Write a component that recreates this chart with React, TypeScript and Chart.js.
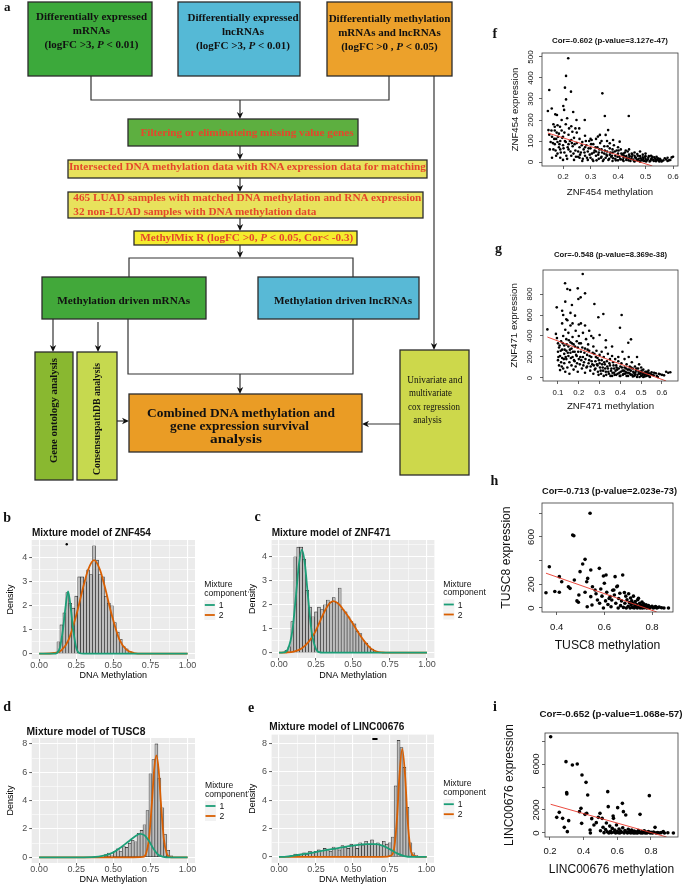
import React, { useEffect, useRef } from 'react';
import { Chart, registerables } from 'chart.js';

Chart.register(...registerables);
Chart.defaults.font.family = "'Liberation Sans', Arial, Helvetica, sans-serif";

type Pair = [number, number];

// ================= DATA =================
// shared ggplot tick values
const methylMajorTicks = [0, 0.25, 0.5, 0.75, 1];
const methylMinorTicks = [0.125, 0.375, 0.625, 0.875];
const densityMajor4 = [0, 1, 2, 3, 4];
const densityMinor4 = [0.5, 1.5, 2.5, 3.5, 4.5];
const densityMajor8 = [0, 2, 4, 6, 8];
const densityMinor8 = [1, 3, 5, 7];
const legendComponents = ['1', '2'];

// b: ZNF454 mixture model
const znf454Bins = [0.13, 0.15, 0.17, 0.19, 0.21, 0.23, 0.25, 0.27, 0.29, 0.31, 0.33, 0.35, 0.37, 0.39, 0.41, 0.43, 0.45, 0.47, 0.49, 0.51, 0.53, 0.55, 0.57, 0.59, 0.61];
const znf454Density = [0.5, 1.2, 1.7, 2.55, 2.1, 1.9, 2.4, 3.2, 3.2, 3.0, 3.5, 3.3, 4.5, 3.9, 3.3, 3.2, 2.4, 2.1, 2.0, 1.3, 0.9, 0.6, 0.3, 0.2, 0.1];
const znf454Comp1: Pair[] = [[0, 0], [0.1, 0], [0.12, 0.03], [0.14, 0.25], [0.16, 0.98], [0.175, 1.8], [0.195, 2.6], [0.215, 1.8], [0.23, 0.98], [0.25, 0.25], [0.27, 0.03], [0.3, 0], [1, 0]];
const znf454Comp2: Pair[] = [[0, 0], [0.1, 0.03], [0.15, 0.14], [0.2, 0.6], [0.25, 1.6], [0.3, 2.85], [0.33, 3.5], [0.37, 3.9], [0.41, 3.5], [0.44, 2.85], [0.49, 1.6], [0.54, 0.6], [0.59, 0.16], [0.64, 0.03], [0.7, 0], [1, 0]];
const znf454Marks: Pair[] = [[0.186, 4.56]];

// c: ZNF471 mixture model
const znf471Bins = [0.05, 0.07, 0.09, 0.11, 0.13, 0.15, 0.17, 0.19, 0.21, 0.23, 0.25, 0.27, 0.29, 0.31, 0.33, 0.35, 0.37, 0.39, 0.41, 0.43, 0.45, 0.47, 0.49, 0.51, 0.53, 0.55, 0.57, 0.59, 0.61, 0.63, 0.65];
const znf471Density = [0.1, 0.25, 1.3, 4.0, 4.4, 4.4, 3.9, 2.6, 1.9, 1.5, 1.7, 1.9, 1.8, 2.0, 2.2, 2.1, 2.3, 2.1, 2.7, 1.8, 1.7, 1.5, 1.3, 1.2, 0.9, 0.8, 0.5, 0.4, 0.25, 0.15, 0.05];
const znf471Comp1: Pair[] = [[0, 0], [0.03, 0.01], [0.06, 0.15], [0.09, 0.9], [0.115, 2.4], [0.135, 3.7], [0.155, 4.3], [0.175, 3.7], [0.195, 2.4], [0.22, 0.9], [0.25, 0.15], [0.28, 0.01], [0.32, 0], [1, 0]];
const znf471Comp2: Pair[] = [[0, 0], [0.05, 0.01], [0.1, 0.05], [0.153, 0.18], [0.2, 0.45], [0.243, 0.85], [0.28, 1.35], [0.31, 1.75], [0.34, 2.05], [0.367, 2.15], [0.4, 2.05], [0.44, 1.75], [0.49, 1.3], [0.54, 0.8], [0.58, 0.45], [0.62, 0.18], [0.66, 0.05], [0.7, 0.01], [0.75, 0], [1, 0]];
const znf471Marks: Pair[] = [];

// d: TUSC8 mixture model
const tusc8Bins = [0.45, 0.47, 0.49, 0.51, 0.53, 0.55, 0.57, 0.59, 0.61, 0.63, 0.65, 0.67, 0.69, 0.71, 0.73, 0.75, 0.77, 0.79, 0.81, 0.83, 0.85, 0.87, 0.89];
const tusc8Density = [0.2, 0.3, 0.1, 0.4, 0.6, 0.4, 0.8, 0.7, 1.0, 1.2, 1.1, 1.7, 1.9, 2.3, 3.3, 5.9, 6.9, 8.0, 5.6, 3.5, 1.6, 0.5, 0.1];
const tusc8Comp1: Pair[] = [[0, 0], [0.3, 0], [0.4, 0.05], [0.45, 0.15], [0.5, 0.35], [0.55, 0.7], [0.6, 1.1], [0.65, 1.5], [0.68, 1.65], [0.71, 1.55], [0.74, 1.15], [0.77, 0.6], [0.8, 0.2], [0.83, 0.05], [0.86, 0], [1, 0]];
const tusc8Comp2: Pair[] = [[0, 0], [0.6, 0], [0.7, 0.03], [0.72, 0.25], [0.74, 1.3], [0.76, 3.9], [0.775, 6.2], [0.79, 7.2], [0.805, 6.2], [0.82, 3.9], [0.84, 1.3], [0.86, 0.25], [0.88, 0.03], [0.9, 0], [1, 0]];
const tusc8Marks: Pair[] = [];

// e: LINC00676 mixture model
const linc00676Bins = [0.11, 0.13, 0.15, 0.17, 0.19, 0.21, 0.23, 0.25, 0.27, 0.29, 0.31, 0.33, 0.35, 0.37, 0.39, 0.41, 0.43, 0.45, 0.47, 0.49, 0.51, 0.53, 0.55, 0.57, 0.59, 0.61, 0.63, 0.65, 0.67, 0.69, 0.71, 0.73, 0.75, 0.77, 0.79, 0.81, 0.83, 0.85, 0.87, 0.89, 0.91, 0.93];
const linc00676Density = [0.2, 0.1, 0.2, 0.3, 0.2, 0.4, 0.3, 0.4, 0.5, 0.3, 0.6, 0.5, 0.4, 0.7, 0.6, 0.5, 0.8, 0.7, 0.6, 0.9, 0.8, 0.6, 1.0, 0.8, 1.1, 0.9, 1.2, 0.9, 1.0, 0.8, 1.1, 0.9, 1.0, 1.4, 5.0, 8.2, 7.7, 6.3, 3.5, 1.0, 0.3, 0.1];
const linc00676Comp1: Pair[] = [[0, 0], [0.05, 0.02], [0.1, 0.1], [0.2, 0.25], [0.3, 0.45], [0.4, 0.62], [0.5, 0.8], [0.6, 0.9], [0.65, 0.9], [0.7, 0.8], [0.75, 0.55], [0.8, 0.25], [0.85, 0.06], [0.9, 0], [1, 0]];
const linc00676Comp2: Pair[] = [[0, 0], [0.7, 0], [0.76, 0.1], [0.78, 0.6], [0.8, 2.8], [0.815, 5.6], [0.835, 7.6], [0.855, 5.6], [0.87, 2.8], [0.89, 0.6], [0.91, 0.1], [0.95, 0], [1, 0]];
const linc00676Marks: Pair[] = [[0.65, 8.3]];

// f: ZNF454 methylation vs expression
const znf454Scatter: Pair[] = [
  [0.219, 494], [0.211, 410], [0.207, 354], [0.150, 343], [0.229, 335], [0.343, 327], [0.211, 298], [0.201, 267], [0.159, 255], [0.145, 243], [0.204, 248], [0.237, 238], [0.352, 219], [0.439, 219], [0.172, 227], [0.178, 224], [0.215, 208], [0.279, 200], [0.249, 200], [0.195, 200], [0.189, 168], [0.170, 168], [0.147, 152], [0.364, 152], [0.259, 160], [0.234, 144], [0.334, 129], [0.355, 129], [0.327, 121], [0.304, 105], [0.382, 105], [0.406, 97], [0.370, 89],
  [0.15, 130], [0.155, 95], [0.16, 120], [0.165, 60], [0.17, 150], [0.17, 85], [0.175, 110], [0.18, 40], [0.18, 175], [0.185, 135], [0.185, 70], [0.19, 100], [0.19, 20], [0.195, 150], [0.2, 80], [0.2, 120], [0.205, 45], [0.21, 180], [0.21, 95], [0.215, 15], [0.22, 130], [0.22, 60], [0.225, 100], [0.23, 170], [0.23, 30], [0.235, 75], [0.24, 115], [0.24, 10], [0.245, 55], [0.25, 140], [0.25, 90], [0.255, 25], [0.26, 70], [0.26, 110], [0.265, 45], [0.27, 5], [0.27, 95], [0.275, 60], [0.28, 125], [0.28, 30], [0.285, 80], [0.29, 50], [0.29, 10], [0.295, 100], [0.3, 65], [0.3, 20], [0.305, 40], [0.31, 85], [0.31, 5], [0.315, 55], [0.32, 30], [0.32, 110], [0.325, 70], [0.33, 15], [0.33, 45], [0.335, 90], [0.34, 25], [0.34, 60], [0.345, 5], [0.35, 40], [0.35, 75], [0.355, 20], [0.36, 50], [0.36, 100], [0.365, 10], [0.37, 35], [0.37, 65], [0.375, 25], [0.38, 5], [0.38, 45], [0.385, 80], [0.39, 15], [0.39, 30], [0.395, 55], [0.4, 8], [0.4, 40], [0.405, 25], [0.41, 60], [0.41, 12], [0.415, 35], [0.42, 5], [0.42, 20], [0.425, 45], [0.43, 28], [0.43, 10], [0.435, 50], [0.44, 18], [0.44, 35], [0.445, 5], [0.45, 25], [0.45, 40], [0.455, 12], [0.46, 30], [0.46, 3], [0.465, 20], [0.47, 38], [0.47, 8], [0.475, 15], [0.48, 28], [0.48, 2], [0.485, 10], [0.49, 22], [0.49, 35], [0.495, 5], [0.5, 15], [0.5, 28], [0.505, 8], [0.51, 20], [0.515, 3], [0.52, 12], [0.525, 25], [0.53, 5], [0.535, 15], [0.54, 8], [0.545, 18], [0.55, 3], [0.555, 10], [0.56, 5], [0.575, 12], [0.585, 8], [0.595, 22],
  [0.16, 20], [0.175, 30], [0.2, 10], [0.22, 85], [0.19, 60], [0.165, 180], [0.18, 95], [0.205, 140], [0.23, 105], [0.245, 160], [0.26, 20], [0.28, 70], [0.3, 110], [0.32, 50], [0.34, 100], [0.36, 30], [0.38, 60], [0.4, 70], [0.42, 40], [0.44, 60], [0.46, 45], [0.48, 50], [0.5, 40], [0.52, 30], [0.54, 25], [0.58, 20], [0.6, 25],
  [0.255, 50], [0.262, 35], [0.268, 80], [0.272, 15], [0.278, 45], [0.283, 100], [0.287, 20], [0.293, 65], [0.297, 35], [0.302, 85], [0.307, 12], [0.312, 45], [0.318, 70], [0.322, 8], [0.328, 35], [0.332, 60], [0.338, 20], [0.342, 45], [0.348, 12], [0.352, 55], [0.358, 35], [0.362, 75], [0.368, 15], [0.372, 45], [0.378, 30], [0.382, 18], [0.388, 50], [0.392, 8], [0.398, 25], [0.402, 55], [0.408, 15], [0.412, 40], [0.418, 10], [0.422, 30], [0.428, 55], [0.432, 18], [0.438, 8], [0.442, 28], [0.448, 15], [0.452, 35], [0.458, 5], [0.462, 22], [0.468, 12], [0.472, 30], [0.478, 5], [0.482, 18], [0.488, 8], [0.492, 14], [0.498, 25], [0.502, 3], [0.508, 12], [0.512, 28], [0.518, 6], [0.522, 18], [0.528, 10], [0.532, 22], [0.538, 4], [0.542, 12], [0.548, 8], [0.552, 15], [0.558, 3], [0.565, 8], [0.57, 18], [0.58, 5], [0.59, 10],
  [0.152, 60], [0.158, 150], [0.163, 90], [0.168, 110], [0.173, 55], [0.177, 140], [0.182, 120], [0.187, 85], [0.192, 45], [0.197, 115], [0.202, 65], [0.207, 100], [0.212, 30], [0.217, 70], [0.222, 160], [0.227, 50], [0.232, 90], [0.238, 40], [0.242, 85], [0.247, 25]
];
const znf454Fit: Pair[] = [[0.145, 138], [0.525, -19]];
const znf454XTicks = [0.2, 0.3, 0.4, 0.5, 0.6];
const znf454XLabels = ['0.2', '0.3', '0.4', '0.5', '0.6'];
const znf454YTicks = [0, 100, 200, 300, 400, 500];
const znf454YLabels = ['0', '100', '200', '300', '400', '500'];

// g: ZNF471 methylation vs expression
const znf471Scatter: Pair[] = [
  [0.219, 990], [0.134, 902], [0.145, 848], [0.158, 838], [0.195, 854], [0.230, 806], [0.198, 752], [0.209, 768], [0.135, 727], [0.275, 705], [0.167, 695], [0.094, 673], [0.318, 610], [0.406, 600], [0.294, 578], [0.182, 594], [0.398, 479], [0.049, 463], [0.451, 368], [0.438, 336],
  [0.12, 640], [0.125, 600], [0.14, 560], [0.16, 620], [0.17, 520], [0.21, 520], [0.23, 500], [0.25, 450], [0.3, 410], [0.27, 380], [0.33, 360], [0.36, 300],
  [0.09, 420], [0.095, 380], [0.1, 330], [0.1, 250], [0.1, 170], [0.105, 120], [0.105, 290], [0.11, 210], [0.11, 75], [0.115, 350], [0.115, 150], [0.12, 520], [0.12, 270], [0.12, 190], [0.125, 90], [0.125, 400], [0.13, 310], [0.13, 230], [0.13, 140], [0.135, 460], [0.135, 60], [0.14, 370], [0.14, 260], [0.14, 180], [0.145, 550], [0.145, 100], [0.15, 430], [0.15, 300], [0.15, 210], [0.155, 150], [0.155, 40], [0.16, 340], [0.16, 240], [0.16, 500], [0.165, 120], [0.165, 280], [0.17, 200], [0.17, 390], [0.175, 80], [0.175, 320], [0.18, 250], [0.18, 160], [0.185, 450], [0.185, 110], [0.19, 350], [0.19, 210], [0.195, 60], [0.195, 290], [0.2, 510], [0.2, 180], [0.2, 400], [0.205, 130], [0.21, 250], [0.21, 330], [0.215, 90], [0.22, 200], [0.22, 430], [0.225, 150], [0.23, 280], [0.23, 50], [0.235, 370], [0.24, 220], [0.24, 110], [0.245, 320], [0.25, 170], [0.25, 260], [0.255, 70], [0.26, 400], [0.26, 200], [0.265, 130], [0.27, 300], [0.27, 40], [0.275, 230], [0.28, 160], [0.28, 90], [0.285, 260], [0.29, 190], [0.29, 120], [0.295, 30], [0.3, 220], [0.3, 140], [0.305, 70], [0.31, 250], [0.31, 170], [0.315, 100], [0.32, 20], [0.32, 200], [0.325, 130], [0.33, 60], [0.33, 290], [0.335, 160], [0.34, 90], [0.34, 230], [0.345, 40], [0.35, 180], [0.35, 120], [0.355, 70], [0.36, 210], [0.36, 20], [0.365, 150], [0.37, 90], [0.37, 50], [0.375, 180], [0.38, 120], [0.38, 30], [0.385, 80], [0.39, 160], [0.39, 200], [0.395, 50], [0.4, 110], [0.4, 20], [0.405, 140], [0.41, 70], [0.41, 250], [0.415, 40], [0.42, 100], [0.42, 180], [0.425, 60], [0.43, 20], [0.43, 130], [0.435, 80], [0.44, 50], [0.44, 200], [0.445, 110], [0.45, 30], [0.45, 70], [0.455, 150], [0.46, 90], [0.46, 15], [0.465, 50], [0.47, 110], [0.47, 30], [0.475, 70], [0.48, 200], [0.48, 10], [0.485, 90], [0.49, 40], [0.49, 130], [0.495, 60], [0.5, 20], [0.5, 100], [0.505, 50], [0.51, 80], [0.51, 10], [0.515, 30], [0.52, 60], [0.525, 20], [0.53, 45], [0.535, 70], [0.54, 15], [0.545, 40], [0.55, 55], [0.56, 25], [0.57, 45], [0.58, 10], [0.59, 35], [0.6, 30], [0.62, 60], [0.63, 50], [0.64, 55],
  [0.102, 200], [0.108, 310], [0.113, 260], [0.118, 110], [0.123, 330], [0.128, 180], [0.132, 270], [0.137, 200], [0.142, 320], [0.147, 240], [0.152, 360], [0.157, 270], [0.162, 190], [0.167, 330], [0.172, 250], [0.177, 170], [0.182, 300], [0.187, 220], [0.192, 140], [0.197, 250], [0.202, 330], [0.207, 200], [0.212, 170], [0.217, 290], [0.222, 120], [0.227, 240], [0.232, 180], [0.237, 100], [0.242, 270], [0.247, 140], [0.252, 210], [0.257, 110], [0.262, 160], [0.267, 240], [0.272, 120], [0.277, 80], [0.282, 200], [0.287, 130], [0.292, 60], [0.297, 170], [0.302, 100], [0.307, 40], [0.312, 130], [0.317, 70], [0.322, 150], [0.327, 90], [0.332, 30], [0.337, 110], [0.342, 60], [0.347, 140], [0.352, 20], [0.357, 90], [0.362, 50], [0.367, 120], [0.372, 30], [0.377, 70], [0.382, 100], [0.387, 40], [0.392, 90], [0.397, 20], [0.402, 60], [0.407, 100], [0.412, 30], [0.417, 70], [0.422, 40], [0.427, 90], [0.432, 50], [0.437, 20], [0.442, 80], [0.447, 40], [0.452, 100], [0.457, 30], [0.462, 60], [0.467, 20], [0.472, 50], [0.477, 90], [0.482, 30], [0.487, 60], [0.492, 10], [0.497, 40], [0.502, 70], [0.507, 30], [0.512, 50], [0.517, 15], [0.522, 40], [0.527, 60], [0.532, 25], [0.537, 45], [0.542, 10], [0.552, 30], [0.562, 50], [0.575, 20], [0.585, 40], [0.61, 25]
];
const znf471Fit: Pair[] = [[0.049, 390], [0.62, -28.6]];
const znf471XTicks = [0.1, 0.2, 0.3, 0.4, 0.5, 0.6];
const znf471XLabels = ['0.1', '0.2', '0.3', '0.4', '0.5', '0.6'];
const znf471YTicks = [0, 200, 400, 600, 800];
const znf471YLabels = ['0', '200', '400', '600', '800'];

// h: TUSC8 methylation vs expression
const tusc8Scatter: Pair[] = [
  [0.355, 129], [0.369, 349], [0.392, 140], [0.411, 265], [0.421, 222], [0.411, 133], [0.449, 180], [0.456, 166], [0.467, 617], [0.472, 610], [0.474, 237], [0.485, 60], [0.491, 48], [0.493, 110], [0.498, 307], [0.509, 372], [0.519, 411], [0.519, 133], [0.526, 222], [0.528, 11], [0.53, 250], [0.54, 800], [0.543, 321], [0.543, 96], [0.548, 25], [0.55, 180], [0.561, 152], [0.565, 120], [0.571, 68], [0.579, 335], [0.58, 40], [0.585, 160], [0.59, 100], [0.596, 270], [0.596, 0], [0.6, 209], [0.605, 60], [0.607, 279], [0.61, 133], [0.615, 30], [0.62, 80], [0.624, 96], [0.628, 10], [0.631, 68], [0.635, 150], [0.64, 152], [0.642, 110], [0.645, 265], [0.648, 40], [0.652, 180], [0.655, 186], [0.658, 0], [0.66, 80], [0.665, 124], [0.668, 20], [0.672, 60], [0.677, 279], [0.68, 5], [0.684, 130], [0.686, 40], [0.69, 100], [0.692, 0], [0.695, 70], [0.7, 15], [0.702, 120], [0.705, 45], [0.708, 0], [0.71, 85], [0.712, 25], [0.715, 60], [0.718, 5], [0.72, 40], [0.722, 100], [0.725, 0], [0.728, 20], [0.73, 55], [0.732, 8], [0.735, 30], [0.738, 0], [0.74, 70], [0.743, 82], [0.745, 15], [0.748, 40], [0.75, 0], [0.752, 25], [0.755, 5], [0.758, 50], [0.76, 0], [0.762, 18], [0.765, 35], [0.768, 2], [0.77, 12], [0.775, 28], [0.778, 0], [0.78, 10], [0.785, 20], [0.79, 0], [0.795, 8], [0.8, 15], [0.805, 0], [0.81, 5], [0.815, 12], [0.82, 0], [0.825, 4], [0.83, 8], [0.84, 2], [0.85, 0], [0.869, 0]
];
const tusc8Fit: Pair[] = [[0.355, 294], [0.82, -33.8]];
const tusc8XTicks = [0.4, 0.6, 0.8];
const tusc8XLabels = ['0.4', '0.6', '0.8'];
const tusc8YTicks = [0, 200, 400, 600, 800];
const tusc8YLabels = ['0', '200', '', '600', ''];

// i: LINC00676 methylation vs expression
const linc00676Scatter: Pair[] = [
  [0.204, 8374], [0.24, 1362], [0.255, 1797], [0.275, 1275], [0.285, 493], [0.295, 6203], [0.299, 3507], [0.3, 3400], [0.303, 116], [0.311, 1072], [0.333, 5913], [0.362, 6000], [0.375, 1855], [0.384, 2145], [0.388, 841], [0.39, 5043], [0.408, 1623], [0.414, 4406], [0.418, 1710], [0.424, 3304], [0.438, 261], [0.44, 0], [0.448, 1246], [0.461, 696], [0.475, 900], [0.487, 1362], [0.497, 1710], [0.5, 200], [0.51, 1275], [0.515, 500], [0.521, 29], [0.53, 300], [0.535, 870], [0.54, 100], [0.543, 3594], [0.546, 2290], [0.55, 0], [0.555, 600], [0.56, 150], [0.565, 20], [0.57, 400], [0.575, 1478], [0.577, 1275], [0.58, 80], [0.585, 250], [0.59, 0], [0.595, 700], [0.6, 120], [0.602, 2203], [0.605, 30], [0.61, 350], [0.615, 0], [0.62, 180], [0.625, 60], [0.63, 2580], [0.632, 450], [0.636, 1855], [0.64, 10], [0.645, 220], [0.65, 1565], [0.655, 90], [0.66, 0], [0.665, 320], [0.67, 40], [0.675, 150], [0.68, 0], [0.685, 260], [0.69, 70], [0.695, 10], [0.7, 180], [0.705, 0], [0.71, 100], [0.715, 30], [0.72, 0], [0.725, 220], [0.73, 50], [0.735, 1623], [0.74, 10], [0.745, 120], [0.75, 0], [0.755, 60], [0.76, 200], [0.765, 5], [0.77, 90], [0.775, 0], [0.78, 40], [0.785, 130], [0.79, 3246], [0.795, 0], [0.8, 60], [0.805, 20], [0.81, 0], [0.815, 80], [0.824, 493], [0.83, 10], [0.84, 40], [0.85, 0], [0.86, 30], [0.873, 116], [0.88, 0], [0.9, 20], [0.933, 0]
];
const linc00676Fit: Pair[] = [[0.204, 2496], [0.893, -348]];
const linc00676XTicks = [0.2, 0.4, 0.6, 0.8];
const linc00676XLabels = ['0.2', '0.4', '0.6', '0.8'];
const linc00676YTicks = [0, 2000, 4000, 6000, 8000];
const linc00676YLabels = ['0', '2000', '', '6000', ''];

// ================= STYLE / LAYOUT =================
const GREEN = '#1b9e77';
const ORANGE = '#d95f02';
const SERIF = "'Liberation Serif', 'Times New Roman', serif";
const SANS = "'Liberation Sans', Arial, Helvetica, sans-serif";
const INK = '#333333';
const RED_TEXT = '#e5472b';

const near = (list: number[], v: any) => typeof v === 'number' && list.some((m) => Math.abs(m - v) < 1e-9);

const panelBg = {
  id: 'panelBg',
  beforeDraw(chart: any) {
    const { ctx, chartArea: a } = chart;
    ctx.save();
    ctx.fillStyle = '#ebebeb';
    ctx.fillRect(a.left, a.top, a.right - a.left, a.bottom - a.top);
    ctx.restore();
  },
};

const plotBox = {
  id: 'plotBox',
  afterDraw(chart: any) {
    const { ctx, chartArea: a } = chart;
    ctx.save();
    ctx.strokeStyle = '#3a3a3a';
    ctx.lineWidth = 0.8;
    ctx.strokeRect(a.left, a.top, a.right - a.left, a.bottom - a.top);
    ctx.restore();
  },
};

function rotatedYLabels(values: number[], labels: string[], offset: number, size: number) {
  return {
    id: 'rotYLabels',
    afterDraw(chart: any) {
      const { ctx, chartArea, scales } = chart;
      ctx.save();
      ctx.font = `${size}px ${SANS}`;
      ctx.fillStyle = '#111';
      ctx.textAlign = 'center';
      ctx.textBaseline = 'middle';
      values.forEach((v, i) => {
        const t = labels[i];
        if (!t) return;
        const y = scales.y.getPixelForValue(v);
        ctx.save();
        ctx.translate(chartArea.left - offset, y);
        ctx.rotate(-Math.PI / 2);
        ctx.fillText(t, 0, 0);
        ctx.restore();
      });
      ctx.restore();
    },
  };
}

interface HistSpec {
  bins: number[]; dens: number[]; comp1: Pair[]; comp2: Pair[]; marks: Pair[]; markLine: boolean;
  yMajor: number[]; yMinor: number[]; yMin: number; yMax: number;
  padTop: number; padRight: number; yAxisW: number; xAxisH: number; yTitlePad: number; xTitlePad: number;
}

function histConfig(s: HistSpec): any {
  const xTicks = [...methylMajorTicks, ...methylMinorTicks].sort((a, b) => a - b);
  const yTicks = [...s.yMajor, ...s.yMinor].filter((v) => v >= s.yMin && v <= s.yMax).sort((a, b) => a - b);
  const toXY = (p: Pair[]) => p.map(([x, y]) => ({ x, y }));
  return {
    type: 'bar',
    data: {
      datasets: [
        { type: 'line', label: legendComponents[0], data: toXY(s.comp1), borderColor: GREEN, borderWidth: 1.8, pointRadius: 0, cubicInterpolationMode: 'monotone', order: 1 },
        { type: 'line', label: legendComponents[1], data: toXY(s.comp2), borderColor: ORANGE, borderWidth: 1.8, pointRadius: 0, cubicInterpolationMode: 'monotone', order: 1 },
        {
          type: 'scatter', data: toXY(s.marks), pointStyle: s.markLine ? 'line' : 'circle',
          pointRadius: s.markLine ? 2.6 : 1.2, pointBackgroundColor: '#000', pointBorderColor: '#000', pointBorderWidth: s.markLine ? 2 : 0, order: 0,
        },
        {
          type: 'bar', data: s.bins.map((x, i) => ({ x, y: s.dens[i] })), backgroundColor: '#bdbdbd', borderColor: '#222',
          borderWidth: 0.6, borderSkipped: false, barPercentage: 1, categoryPercentage: 1, order: 2,
        },
      ],
    },
    options: {
      animation: false, responsive: false, maintainAspectRatio: false, events: [],
      layout: { padding: { top: s.padTop, right: s.padRight, left: 0, bottom: 0 } },
      plugins: { legend: { display: false }, tooltip: { enabled: false } },
      scales: {
        x: {
          type: 'linear', min: -0.05, max: 1.05, offset: false, bounds: 'data',
          afterFit: (sc: any) => { sc.height = s.xAxisH; },
          afterBuildTicks: (sc: any) => { sc.ticks = xTicks.map((v) => ({ value: v })); },
          grid: {
            offset: false, color: '#ffffff',
            lineWidth: (c: any) => (near(methylMajorTicks, c.tick && c.tick.value) ? 1.1 : 0.55),
            drawTicks: true, tickLength: 2.5, tickWidth: 0.8,
            tickColor: (c: any) => (near(methylMajorTicks, c.tick && c.tick.value) ? '#333' : 'rgba(0,0,0,0)'),
          },
          border: { display: false },
          ticks: {
            autoSkip: false, maxRotation: 0, minRotation: 0, padding: 0, color: '#4d4d4d', font: { size: 9, lineHeight: 1 },
            callback: (v: any) => (near(methylMajorTicks, v) ? Number(v).toFixed(2) : ''),
          },
          title: { display: true, text: 'DNA Methylation', color: '#000', font: { size: 9, lineHeight: 1 }, padding: { top: 0, bottom: s.xTitlePad } },
        },
        y: {
          type: 'linear', min: s.yMin, max: s.yMax, bounds: 'data',
          afterFit: (sc: any) => { sc.width = s.yAxisW; },
          afterBuildTicks: (sc: any) => { sc.ticks = yTicks.map((v) => ({ value: v })); },
          grid: {
            color: '#ffffff',
            lineWidth: (c: any) => (near(s.yMajor, c.tick && c.tick.value) ? 1.1 : 0.55),
            drawTicks: true, tickLength: 2.5, tickWidth: 0.8,
            tickColor: (c: any) => (near(s.yMajor, c.tick && c.tick.value) ? '#333' : 'rgba(0,0,0,0)'),
          },
          border: { display: false },
          ticks: {
            autoSkip: false, padding: 2, color: '#4d4d4d', font: { size: 9, lineHeight: 1 },
            callback: (v: any) => (near(s.yMajor, v) ? String(v) : ''),
          },
          title: { display: true, text: 'Density', color: '#000', font: { size: 9, lineHeight: 1 }, padding: { top: s.yTitlePad, bottom: 0 } },
        },
      },
    },
    plugins: [panelBg],
  };
}

interface ScatterSpec {
  points: Pair[]; fit: Pair[];
  xTicks: number[]; xLabels: string[]; yTicks: number[]; yLabels: string[];
  xMin: number; xMax: number; yMin: number; yMax: number;
  padTop: number; padRight: number; yAxisW: number; xAxisH: number;
  tickFont: number; titleFont: number; xTickPad: number; xTitlePad: number; yTitlePad: number; yLabelOffset: number;
  pointR: number; xTitle: string; yTitle: string;
}

function scatterConfig(s: ScatterSpec): any {
  const toXY = (p: Pair[]) => p.map(([x, y]) => ({ x, y }));
  return {
    type: 'scatter',
    data: {
      datasets: [
        { type: 'line', data: toXY(s.fit), borderColor: '#e8372a', borderWidth: 0.9, pointRadius: 0, order: 0 },
        { type: 'scatter', data: toXY(s.points), pointRadius: s.pointR, pointBackgroundColor: '#000', pointBorderWidth: 0, order: 1 },
      ],
    },
    options: {
      animation: false, responsive: false, maintainAspectRatio: false, events: [],
      layout: { padding: { top: s.padTop, right: s.padRight, left: 0, bottom: 0 } },
      plugins: { legend: { display: false }, tooltip: { enabled: false } },
      scales: {
        x: {
          type: 'linear', min: s.xMin, max: s.xMax, bounds: 'data',
          afterFit: (sc: any) => { sc.height = s.xAxisH; },
          afterBuildTicks: (sc: any) => { sc.ticks = s.xTicks.map((v) => ({ value: v })); },
          grid: { drawOnChartArea: false, drawTicks: true, tickLength: 3, color: '#222', lineWidth: 0.7 },
          border: { display: false },
          ticks: {
            autoSkip: false, maxRotation: 0, minRotation: 0, padding: s.xTickPad, color: '#111', font: { size: s.tickFont, lineHeight: 1 },
            callback: (_v: any, i: number) => s.xLabels[i],
          },
          title: { display: true, text: s.xTitle, color: '#111', font: { size: s.titleFont, lineHeight: 1 }, padding: { top: 0, bottom: s.xTitlePad } },
        },
        y: {
          type: 'linear', min: s.yMin, max: s.yMax, bounds: 'data',
          afterFit: (sc: any) => { sc.width = s.yAxisW; },
          afterBuildTicks: (sc: any) => { sc.ticks = s.yTicks.map((v) => ({ value: v })); },
          grid: { drawOnChartArea: false, drawTicks: true, tickLength: 3, color: '#222', lineWidth: 0.7 },
          border: { display: false },
          ticks: { display: false },
          title: { display: true, text: s.yTitle, color: '#111', font: { size: s.titleFont, lineHeight: 1 }, padding: { top: s.yTitlePad, bottom: 0 } },
        },
      },
    },
    plugins: [plotBox, rotatedYLabels(s.yTicks, s.yLabels, s.yLabelOffset, s.tickFont)],
  };
}

function ChartCanvas({ make, left, top, width, height }: { make: () => any; left: number; top: number; width: number; height: number }) {
  const ref = useRef<HTMLCanvasElement | null>(null);
  useEffect(() => {
    if (!ref.current) return;
    const chart = new Chart(ref.current, make());
    return () => chart.destroy();
  }, []);
  return <canvas ref={ref} width={width} height={height} style={{ position: 'absolute', left, top, width, height }} />;
}

// ---------- flowchart helpers ----------
function Arrow({ x1, y1, x2, y2 }: { x1: number; y1: number; x2: number; y2: number }) {
  const dx = x2 - x1, dy = y2 - y1, L = Math.hypot(dx, dy);
  const ux = dx / L, uy = dy / L, px = -uy, py = ux;
  const hl = 7, hw = 3.2, notch = 2;
  const bx = x2 - ux * hl, by = y2 - uy * hl;
  const nx = x2 - ux * (hl - notch), ny = y2 - uy * (hl - notch);
  const pts = `${x2},${y2} ${bx + px * hw},${by + py * hw} ${nx},${ny} ${bx - px * hw},${by - py * hw}`;
  return (
    <g>
      <line x1={x1} y1={y1} x2={nx} y2={ny} stroke={INK} strokeWidth={1.2} />
      <polygon points={pts} fill="#111" />
    </g>
  );
}

function Box({ x, y, w, h, fill }: { x: number; y: number; w: number; h: number; fill: string }) {
  return <rect x={x} y={y} width={w} height={h} fill={fill} stroke="#2b2b2b" strokeWidth={1.3} />;
}

function Legend({ x, cy }: { x: number; cy: number }) {
  const t = { fontFamily: SANS, fontSize: 8.6, fill: '#111' };
  return (
    <g>
      <text x={x} y={cy - 12.5} {...t}>Mixture</text>
      <text x={x} y={cy - 4} {...t}>component</text>
      {[GREEN, ORANGE].map((c, i) => (
        <g key={i}>
          <rect x={x} y={cy + 0.5 + i * 10} width={11} height={10} fill="#f2f2f2" />
          <line x1={x + 0.5} x2={x + 10.5} y1={cy + 5.5 + i * 10} y2={cy + 5.5 + i * 10} stroke={c} strokeWidth={1.8} />
          <text x={x + 14.5} y={cy + 8.7 + i * 10} {...t}>{legendComponents[i]}</text>
        </g>
      ))}
    </g>
  );
}

const bold = { fontFamily: SERIF, fontWeight: 'bold' as const };

export default function App() {
  return (
    <div style={{ position: 'absolute', left: 0, top: 0, width: 685, height: 886, background: '#fff', overflow: 'hidden' }}>
      <ChartCanvas left={0} top={530} width={200} height={156} make={() => histConfig({
        bins: znf454Bins, dens: znf454Density, comp1: znf454Comp1, comp2: znf454Comp2, marks: znf454Marks, markLine: false,
        yMajor: densityMajor4, yMinor: densityMinor4, yMin: -0.22, yMax: 4.74,
        padTop: 10, padRight: 5, yAxisW: 31.7, xAxisH: 27, yTitlePad: 6, xTitlePad: 5.5,
      })} />
      <ChartCanvas left={240} top={530} width={200} height={156} make={() => histConfig({
        bins: znf471Bins, dens: znf471Density, comp1: znf471Comp1, comp2: znf471Comp2, marks: znf471Marks, markLine: false,
        yMajor: densityMajor4, yMinor: densityMinor4, yMin: -0.22, yMax: 4.70,
        padTop: 10, padRight: 5.6, yAxisW: 31.6, xAxisH: 28, yTitlePad: 8, xTitlePad: 5.5,
      })} />
      <ChartCanvas left={0} top={728} width={200} height={158} make={() => histConfig({
        bins: tusc8Bins, dens: tusc8Density, comp1: tusc8Comp1, comp2: tusc8Comp2, marks: tusc8Marks, markLine: false,
        yMajor: densityMajor8, yMinor: densityMinor8, yMin: -0.4, yMax: 8.42,
        padTop: 10, padRight: 5, yAxisW: 31.7, xAxisH: 23, yTitlePad: 6, xTitlePad: 1.5,
      })} />
      <ChartCanvas left={240} top={725} width={200} height={161} make={() => histConfig({
        bins: linc00676Bins, dens: linc00676Density, comp1: linc00676Comp1, comp2: linc00676Comp2, marks: linc00676Marks, markLine: true,
        yMajor: densityMajor8, yMinor: densityMinor8, yMin: -0.41, yMax: 8.61,
        padTop: 9.6, padRight: 5.6, yAxisW: 31.6, xAxisH: 23.2, yTitlePad: 8, xTitlePad: 1.5,
      })} />

      <ChartCanvas left={500} top={45} width={185} height={160} make={() => scatterConfig({
        points: znf454Scatter, fit: znf454Fit, xTicks: znf454XTicks, xLabels: znf454XLabels, yTicks: znf454YTicks, yLabels: znf454YLabels,
        xMin: 0.1236, xMax: 0.618, yMin: -19, yMax: 519, padTop: 8, padRight: 7, yAxisW: 42, xAxisH: 39,
        tickFont: 8, titleFont: 9.6, xTickPad: 3.7, xTitlePad: 7.5, yTitlePad: 10.2, yLabelOffset: 11, pointR: 1.3,
        xTitle: 'ZNF454 methylation', yTitle: 'ZNF454 expression',
      })} />
      <ChartCanvas left={500} top={262} width={185} height={160} make={() => scatterConfig({
        points: znf471Scatter, fit: znf471Fit, xTicks: znf471XTicks, xLabels: znf471XLabels, yTicks: znf471YTicks, yLabels: znf471YLabels,
        xMin: 0.0279, xMax: 0.677, yMin: -28.6, yMax: 1028.6, padTop: 8, padRight: 7, yAxisW: 43, xAxisH: 41,
        tickFont: 7.8, titleFont: 9.7, xTickPad: 4.8, xTitlePad: 10.4, yTitlePad: 9.4, yLabelOffset: 13, pointR: 1.3,
        xTitle: 'ZNF471 methylation', yTitle: 'ZNF471 expression',
      })} />
      <ChartCanvas left={495} top={495} width={190} height={165} make={() => scatterConfig({
        points: tusc8Scatter, fit: tusc8Fit, xTicks: tusc8XTicks, xLabels: tusc8XLabels, yTicks: tusc8YTicks, yLabels: tusc8YLabels,
        xMin: 0.3383, xMax: 0.888, yMin: -33.8, yMax: 887, padTop: 8, padRight: 12, yAxisW: 47, xAxisH: 48,
        tickFont: 9.5, titleFont: 12.2, xTickPad: 8, xTitlePad: 7.9, yTitlePad: 5.6, yLabelOffset: 11, pointR: 1.8,
        xTitle: 'TUSC8 methylation', yTitle: 'TUSC8 expression',
      })} />
      <ChartCanvas left={495} top={725} width={190} height={161} make={() => scatterConfig({
        points: linc00676Scatter, fit: linc00676Fit, xTicks: linc00676XTicks, xLabels: linc00676XLabels, yTicks: linc00676YTicks, yLabels: linc00676YLabels,
        xMin: 0.1703, xMax: 0.9604, yMin: -348, yMax: 8696, padTop: 8, padRight: 7, yAxisW: 50, xAxisH: 49,
        tickFont: 9.5, titleFont: 12, xTickPad: 6.9, xTitlePad: 10, yTitlePad: 9, yLabelOffset: 9, pointR: 1.8,
        xTitle: 'LINC00676 methylation', yTitle: 'LINC00676 expression',
      })} />

      <svg width={685} height={886} style={{ position: 'absolute', left: 0, top: 0, pointerEvents: 'none' }}>
        {/* ---------- panel a: flowchart ---------- */}
        <polyline points="91,76 91,100 389,100 389,76" fill="none" stroke={INK} strokeWidth={1.2} />
        <Arrow x1={240} y1={100} x2={240} y2={119} />
        <Arrow x1={240} y1={146} x2={240} y2={160} />
        <Arrow x1={240} y1={178} x2={240} y2={192} />
        <Arrow x1={240} y1={218} x2={240} y2={231} />
        <Arrow x1={240} y1={245} x2={240} y2={258} />
        <polyline points="129,277 129,258 353,258 353,277" fill="none" stroke={INK} strokeWidth={1.2} />
        <Arrow x1={53} y1={319} x2={53} y2={352} />
        <Arrow x1={98} y1={322} x2={98} y2={352} />
        <polyline points="128,319 128,374 353,374 353,319" fill="none" stroke={INK} strokeWidth={1.2} />
        <Arrow x1={240} y1={374} x2={240} y2={394} />
        <Arrow x1={434} y1={76} x2={434} y2={350} />
        <Arrow x1={117} y1={421} x2={129} y2={421} />
        <Arrow x1={400} y1={424} x2={362} y2={424} />

        <Box x={28} y={2} w={124} h={74} fill="#3ca93b" />
        <Box x={178} y={2} w={122} h={74} fill="#55b9d6" />
        <Box x={327} y={2} w={125} h={74} fill="#eca12b" />
        <Box x={128} y={119} w={230} h={27} fill="#5daf40" />
        <Box x={68} y={160} w={359} h={18} fill="#e8e25c" />
        <Box x={68} y={192} w={355} h={26} fill="#e8e25c" />
        <Box x={134} y={231} w={223} h={14} fill="#f4ec2e" />
        <Box x={42} y={277} w={164} h={42} fill="#42a83a" />
        <Box x={258} y={277} w={161} h={42} fill="#58b9d6" />
        <Box x={35} y={352} w={38} h={128} fill="#89b830" />
        <Box x={77} y={352} w={40} h={128} fill="#c6d94f" />
        <Box x={129} y={394} w={233} h={58} fill="#ea9c25" />
        <Box x={400} y={350} w={69} h={125} fill="#cdd84b" />

        <text x={4} y={11} {...bold} fontSize={13} fill="#111">a</text>

        <g {...bold} fontSize={11} fill="#111" textAnchor="middle">
          <text x={91.5} y={19.5}>Differentially expressed</text>
          <text x={91.5} y={33.5}>mRNAs</text>
          <text x={91.5} y={47.5}>{'(logFC >3, '}<tspan fontStyle="italic">P</tspan>{' < 0.01)'}</text>
          <text x={243} y={21}>Differentially expressed</text>
          <text x={243} y={35}>lncRNAs</text>
          <text x={243} y={49}>{'(logFC >3, '}<tspan fontStyle="italic">P</tspan>{' < 0.01)'}</text>
          <text x={389.5} y={21.5}>Differentially methylation</text>
          <text x={389.5} y={36}>mRNAs and lncRNAs</text>
          <text x={389.5} y={49.5}>{'(logFC >0 , '}<tspan fontStyle="italic">P</tspan>{' < 0.05)'}</text>
        </g>

        <g {...bold} fill={RED_TEXT}>
          <text x={247} y={135.5} fontSize={11} textAnchor="middle" textLength={213} lengthAdjust="spacingAndGlyphs">Filtering or eliminateing missing value genes</text>
          <text x={247.5} y={170} fontSize={10.6} textAnchor="middle" textLength={357} lengthAdjust="spacingAndGlyphs">Intersected DNA methylation data with RNA expression data for matching</text>
          <text x={73.3} y={201} fontSize={10.6} textLength={348} lengthAdjust="spacingAndGlyphs">465 LUAD samples with matched DNA methylation and RNA expression</text>
          <text x={73.3} y={214.5} fontSize={10.6} textLength={243} lengthAdjust="spacingAndGlyphs">32 non-LUAD samples with DNA methylation data</text>
          <text x={246.7} y={241} fontSize={10.6} textAnchor="middle" textLength={213} lengthAdjust="spacingAndGlyphs">{'MethylMix R (logFC >0, '}<tspan fontStyle="italic">P</tspan>{' < 0.05, Cor< -0.3)'}</text>
        </g>

        <g {...bold} fill="#111">
          <text x={123.7} y={303.5} fontSize={11} textAnchor="middle" textLength={133} lengthAdjust="spacingAndGlyphs">Methylation driven mRNAs</text>
          <text x={343} y={303.5} fontSize={11} textAnchor="middle" textLength={138} lengthAdjust="spacingAndGlyphs">Methylation driven lncRNAs</text>
          <text transform="translate(56.5,410.5) rotate(-90)" x={0} y={0} fontSize={11} textAnchor="middle" textLength={105} lengthAdjust="spacingAndGlyphs">Gene ontology analysis</text>
          <text transform="translate(99.5,419) rotate(-90)" x={0} y={0} fontSize={11} textAnchor="middle" textLength={112} lengthAdjust="spacingAndGlyphs">ConsensuspathDB analysis</text>
          <text x={241} y={417} fontSize={13.3} textAnchor="middle" textLength={188} lengthAdjust="spacingAndGlyphs">Combined DNA methylation and</text>
          <text x={239.5} y={430} fontSize={13.3} textAnchor="middle" textLength={139} lengthAdjust="spacingAndGlyphs">gene expression survival</text>
          <text x={236} y={443} fontSize={13.3} textAnchor="middle" textLength={52} lengthAdjust="spacingAndGlyphs">analysis</text>
        </g>

        <g fontFamily={SERIF} fontSize={11} fill="#111">
          <text x={407.3} y={383} textLength={55} lengthAdjust="spacingAndGlyphs">Univariate and</text>
          <text x={409} y={396} textLength={43} lengthAdjust="spacingAndGlyphs">multivariate</text>
          <text x={408} y={409.5} textLength={52} lengthAdjust="spacingAndGlyphs">cox regression</text>
          <text x={413.3} y={422.5} textLength={28.4} lengthAdjust="spacingAndGlyphs">analysis</text>
        </g>

        {/* ---------- panel letters ---------- */}
        <g {...bold} fontSize={14} fill="#111">
          <text x={3.3} y={522}>b</text>
          <text x={254.5} y={521}>c</text>
          <text x={3.3} y={711}>d</text>
          <text x={248} y={712}>e</text>
          <text x={492.5} y={38}>f</text>
          <text x={495} y={253}>g</text>
          <text x={490.5} y={485}>h</text>
          <text x={493} y={711}>i</text>
        </g>

        {/* ---------- mixture-model titles and legends ---------- */}
        <g fontFamily={SANS} fontWeight="bold" fill="#111">
          <text x={32} y={535.5} fontSize={10}>Mixture model of ZNF454</text>
          <text x={271.7} y={535.5} fontSize={10}>Mixture model of ZNF471</text>
          <text x={26.5} y={734.5} fontSize={10.3}>Mixture model of TUSC8</text>
          <text x={269.3} y={729.5} fontSize={10.1}>Mixture model of LINC00676</text>
        </g>
        <Legend x={204.3} cy={599.5} />
        <Legend x={443.3} cy={599} />
        <Legend x={205} cy={800.5} />
        <Legend x={443.3} cy={798.7} />

        {/* ---------- correlation titles ---------- */}
        <g fontFamily={SANS} fontWeight="bold" fill="#111" textAnchor="middle">
          <text x={610} y={43} fontSize={8} textLength={116} lengthAdjust="spacingAndGlyphs">Cor=-0.602 (p-value=3.127e-47)</text>
          <text x={610.5} y={257} fontSize={7.9} textLength={113} lengthAdjust="spacingAndGlyphs">Cor=-0.548 (p-value=8.369e-38)</text>
          <text x={609.5} y={494} fontSize={9.3} textLength={135} lengthAdjust="spacingAndGlyphs">Cor=-0.713 (p-value=2.023e-73)</text>
          <text x={611} y={717} fontSize={9.7} textLength={143} lengthAdjust="spacingAndGlyphs">Cor=-0.652 (p-value=1.068e-57)</text>
        </g>
      </svg>
    </div>
  );
}
